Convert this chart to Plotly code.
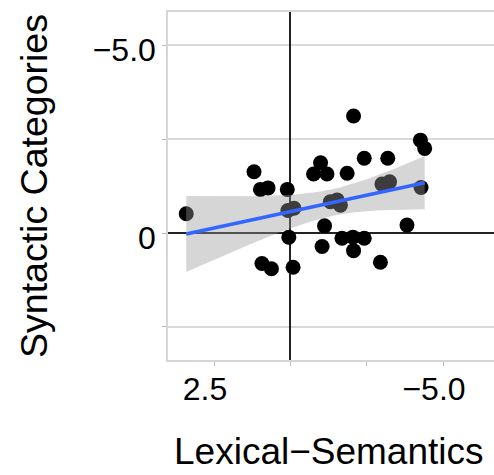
import numpy as np
import plotly.graph_objects as go

# Data
lex_sem = [3.41, 1.19, 0.98, 0.73, 0.10, 0.08, -0.12, 0.05, 0.93, 0.62, -0.09,
           -0.99, -0.76, -1.20, -1.86, -2.07, -2.42, -3.19, -4.26, -4.40, -4.28,
           -3.00, -3.25, -1.31, -1.53, -1.64, -1.12, -1.04, -1.69, -2.05, -2.42,
           -2.07, -2.95, -3.82]
syn_cat = [-0.51, -1.63, -1.16, -1.20, -1.16, -0.60, -0.66, 0.11, 0.81, 0.95, 0.91,
           -1.87, -1.57, -1.57, -1.59, -3.11, -1.99, -1.99, -2.47, -2.25, -1.21,
           -1.30, -1.36, -0.83, -0.88, -0.74, -0.19, 0.36, 0.14, 0.11, 0.14,
           0.47, 0.78, -0.21]

x_tickvals = [2.5, 0, -2.5, -5.0]
x_ticktext = ["2.5", "", "", "\u22125.0"]
y_tickvals = [-5.0, -2.5, 0, 2.5]
y_ticktext = ["\u22125.0", "", "0", ""]

# linear fit with 95% confidence band (like geom_smooth(method="lm"))
x = np.array(lex_sem)
y = np.array(syn_cat)
n = len(x)
b1, b0 = np.polyfit(x, y, 1)
xs = np.linspace(x.min(), x.max(), 80)
yhat = b0 + b1 * xs
resid = y - (b0 + b1 * x)
s = np.sqrt(np.sum(resid ** 2) / (n - 2))
sxx = np.sum((x - x.mean()) ** 2)
se = s * np.sqrt(1 / n + (xs - x.mean()) ** 2 / sxx)
tcrit = 2.037  # t(0.975, df=32)
upper = yhat + tcrit * se
lower = yhat - tcrit * se

fig = go.Figure()
fig.add_trace(go.Scatter(x=lex_sem, y=syn_cat, mode="markers",
                         marker=dict(color="black", size=15), showlegend=False))
fig.add_trace(go.Scatter(x=np.concatenate([xs, xs[::-1]]),
                         y=np.concatenate([upper, lower[::-1]]),
                         fill="toself", fillcolor="rgba(153,153,153,0.4)",
                         line=dict(width=0), mode="lines", hoverinfo="skip",
                         showlegend=False))
fig.add_trace(go.Scatter(x=xs, y=yhat, mode="lines",
                         line=dict(color="#3366FF", width=3.5), showlegend=False))

font = "Liberation Sans, Arial, Helvetica, sans-serif"
fig.update_layout(
    width=494, height=475,
    margin=dict(l=168, r=0, t=12, b=115),
    plot_bgcolor="white", paper_bgcolor="white",
    font=dict(family=font, color="black"),
    xaxis=dict(range=[4.007, -6.67], tickvals=x_tickvals, ticktext=x_ticktext,
               showgrid=False, zeroline=True, zerolinecolor="#222222", zerolinewidth=1.5,
               showline=True, linecolor="#d6d6d6", linewidth=1.5, mirror=True,
               ticks="outside", ticklen=4, tickcolor="#bbbbbb", tickwidth=1,
               ticklabelshift=9, ticklabelstandoff=-4,
               tickfont=dict(size=32, color="black")),
    yaxis=dict(range=[3.378, -5.878], tickvals=y_tickvals, ticktext=y_ticktext,
               showgrid=True, gridcolor="#d9d9d9", gridwidth=1.5,
               zeroline=True, zerolinecolor="#222222", zerolinewidth=1.5,
               showline=True, linecolor="#d6d6d6", linewidth=1.5,
               ticks="outside", ticklen=4, tickcolor="#bbbbbb", tickwidth=1,
               ticklabelshift=-5,
               tickfont=dict(size=32, color="black"),
               title=dict(text="Syntactic Categories", font=dict(size=37.5, color="black"), standoff=34)),
    annotations=[dict(text="Lexical\u2212Semantics", xref="paper", yref="paper",
                      x=0.494, y=-0.2615, xanchor="center", yanchor="middle",
                      showarrow=False, font=dict(size=37, color="black"))],
)
fig.write_html("out.html")
